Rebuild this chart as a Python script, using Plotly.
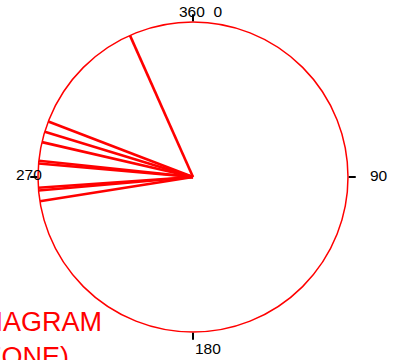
import plotly.graph_objects as go

# Directions (degrees, clockwise from north) of the measured features
directions = [336, 291, 287, 283, 276, 275, 266, 265, 261]
ray_length = 1.0

tick_angles = [0, 90, 180, 270]
tick_labels = ["360\u00a0\u00a00", "90", "180", "270"]

fig = go.Figure()

for d in directions:
    fig.add_trace(go.Scatterpolar(
        r=[0, ray_length], theta=[d, d], mode="lines",
        line=dict(color="#ff0000", width=2.6),
        showlegend=False, hoverinfo="skip",
    ))

W, H = 393, 360
cx, cy, rad = 193, 177, 155

fig.update_layout(
    width=W, height=H,
    margin=dict(l=0, r=0, t=0, b=0),
    paper_bgcolor="white",
    plot_bgcolor="white",
    showlegend=False,
    polar=dict(
        domain=dict(x=[(cx - rad) / W, (cx + rad) / W],
                    y=[(H - cy - rad) / H, (H - cy + rad) / H]),
        bgcolor="white",
        radialaxis=dict(visible=False, range=[0, 1]),
        angularaxis=dict(
            rotation=90, direction="clockwise",
            linecolor="#ff0000", linewidth=1.5,
            showgrid=False,
            ticks="outside", ticklen=7, tickwidth=2, tickcolor="black",
            tickvals=tick_angles, showticklabels=False,
        ),
    ),
)

# Compass labels placed around the rim
font = dict(family="Liberation Sans, Arial, sans-serif", size=15.5, color="black")
label_pos = [(200.5, 11), (379, 175), (207.5, 348), (29, 174)]
for (px, py), txt in zip(label_pos, tick_labels):
    fig.add_annotation(x=px / W, y=1 - py / H, xref="paper", yref="paper",
                       text=txt, showarrow=False, font=font,
                       xanchor="center", yanchor="middle")

fig.add_annotation(
    x=-26.5 / W, y=1 - 305 / H, xref="paper", yref="paper",
    text="DIAGRAM<br>(ZONE)", showarrow=False, align="left",
    xanchor="left", yanchor="top",
    font=dict(family="Liberation Sans, Arial, sans-serif", size=27, color="#ff0000"),
)

fig.write_html("out.html")
